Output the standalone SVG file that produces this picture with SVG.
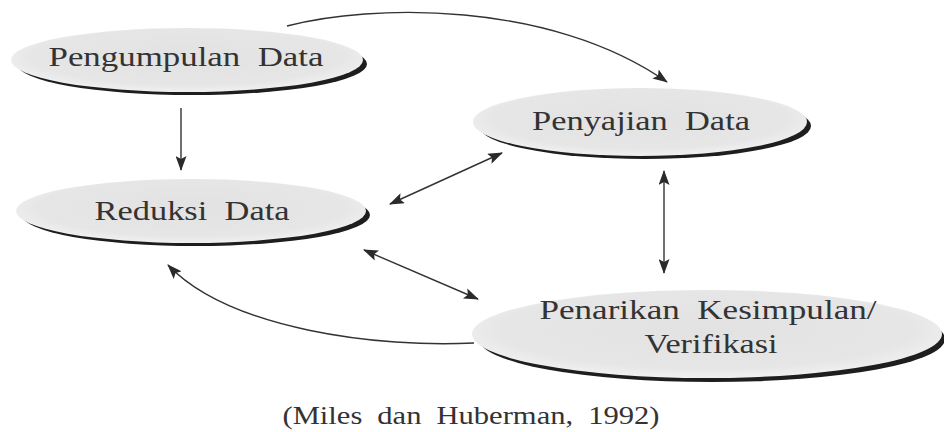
<svg xmlns="http://www.w3.org/2000/svg" width="944" height="432" viewBox="0 0 944 432">
<defs>
<radialGradient id="fillg" cx="0.5" cy="0.45" r="0.55">
<stop offset="0" stop-color="#e2e2e2"/>
<stop offset="0.8" stop-color="#e6e6e6"/>
<stop offset="1" stop-color="#f0f0f0"/>
</radialGradient>
<marker id="ah" viewBox="0 0 15 11" refX="14" refY="5.5" markerWidth="15" markerHeight="11" markerUnits="userSpaceOnUse" orient="auto-start-reverse">
<path d="M0,0 L15,5.5 L0,11 L3,5.5 Z" fill="#2a2a2a"/>
</marker>
</defs>
<style>
.sh{fill:#1e1e1e}
.el{fill:url(#fillg)}
.t{font-family:"Liberation Serif","Times New Roman",serif;font-size:28px;fill:#333;text-anchor:middle;word-spacing:7px}
.c{stroke:#333;stroke-width:1.4;fill:none}
</style>
<rect width="944" height="432" fill="#fff"/>
<g id="pengumpulan">
<ellipse class="sh" cx="192" cy="64" rx="175" ry="31"/>
<ellipse class="el" cx="187" cy="60" rx="176" ry="32"/>
<text class="t" x="186" y="66" textLength="275" lengthAdjust="spacingAndGlyphs">Pengumpulan Data</text>
</g>
<g id="penyajian">
<ellipse class="sh" cx="645" cy="126" rx="166" ry="33"/>
<ellipse class="el" cx="640" cy="122" rx="167" ry="34"/>
<text class="t" x="641" y="130" textLength="218" lengthAdjust="spacingAndGlyphs">Penyajian Data</text>
</g>
<g id="reduksi">
<ellipse class="sh" cx="196" cy="215" rx="174" ry="31"/>
<ellipse class="el" cx="191" cy="211" rx="175" ry="32"/>
<text class="t" x="192" y="220" textLength="195" lengthAdjust="spacingAndGlyphs">Reduksi Data</text>
</g>
<g id="penarikan">
<ellipse class="sh" cx="712" cy="339" rx="233" ry="43"/>
<ellipse class="el" cx="707" cy="334" rx="235" ry="44"/>
<text class="t" x="708" y="319" textLength="337" lengthAdjust="spacingAndGlyphs">Penarikan Kesimpulan/</text>
<text class="t" x="711" y="353" textLength="133" lengthAdjust="spacingAndGlyphs">Verifikasi</text>
</g>
<g id="connectors">
<path class="c" d="M287,26 C370,4 550,0 667,82" marker-end="url(#ah)"/>
<path class="c" d="M181,108 L181,170" marker-end="url(#ah)"/>
<path class="c" d="M390,204 L502,153" marker-start="url(#ah)" marker-end="url(#ah)"/>
<path class="c" d="M664,171 L664,273" marker-start="url(#ah)" marker-end="url(#ah)"/>
<path class="c" d="M364,250 L478,299" marker-start="url(#ah)" marker-end="url(#ah)"/>
<path class="c" d="M474,343 C380,348 230,330 168,265" marker-end="url(#ah)"/>
</g>
<text id="caption" x="471" y="424" font-family="Liberation Serif, Times New Roman, serif" font-size="25" fill="#333" text-anchor="middle" word-spacing="6" textLength="377" lengthAdjust="spacingAndGlyphs">(Miles dan Huberman, 1992)</text>
</svg>
